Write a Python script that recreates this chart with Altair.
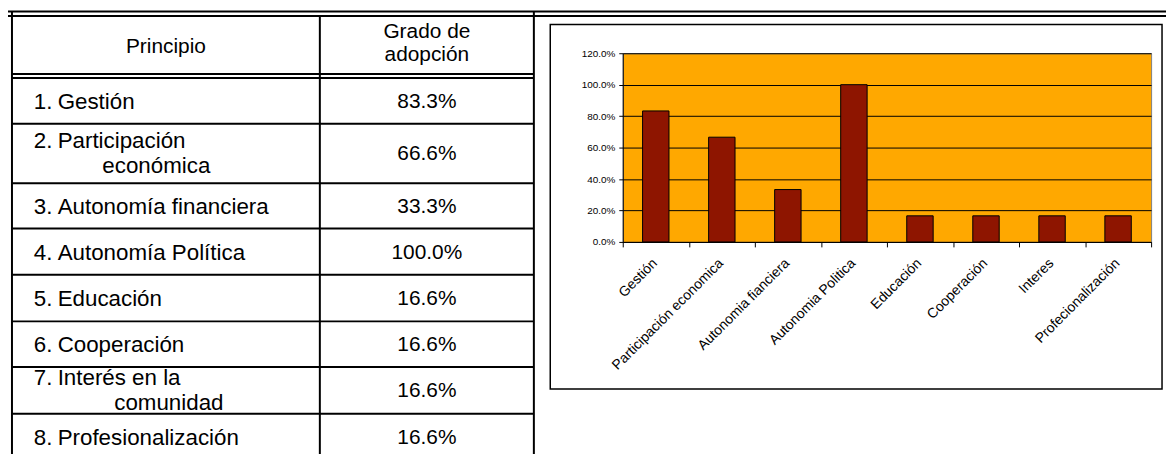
import altair as alt
import pandas as pd

# ---------------- data ----------------
TABLE_NUMS = ["1.", "2.", "3.", "4.", "5.", "6.", "7.", "8."]
TABLE_LINE1 = ["Gestión", "Participación", "Autonomía financiera", "Autonomía Política",
               "Educación", "Cooperación", "Interés en la", "Profesionalización"]
TABLE_LINE2 = ["", "económica", "", "", "", "", "comunidad", ""]
ADOPCION = [0.833, 0.666, 0.333, 1.0, 0.166, 0.166, 0.166, 0.166]
HEADER_COL1 = ["Principio"]
HEADER_COL2 = ["Grado de", "adopción"]
CHART_CATS = ["Gestión", "Participación economica", "Autonomia fianciera", "Autonomia Politica",
              "Educación", "Cooperación", "Interes", "Profecionalización"]
Y_TICKS = [0, 0.2, 0.4, 0.6, 0.8, 1.0, 1.2]

# ---------------- layout (page pixels) ----------------
FONT = "Liberation Sans"
W_TOTAL, H_TOTAL = 1166, 446
PLOT_L, PLOT_T, PLOT_R, PLOT_B = 627, 52, 1159, 242
PW, PH = PLOT_R - PLOT_L, PLOT_B - PLOT_T
PAD = {"left": PLOT_L - 8, "top": PLOT_T - 8,
       "right": W_TOTAL - (PLOT_L - 8) - PW, "bottom": H_TOTAL - (PLOT_T - 8) - PH}

OUTER_TOP = [10, 14.5]
OUTER_LEFT = [7, 12]
TABLE_RIGHT = 537.5
COL_DIV = 322
HEADER_BOT = [73, 77]
ROW_H = [46, 60, 45.5, 46.5, 47, 46, 47, 47]
NUM_X, TXT_X = 34, 58
LINE2_X = {1: 103, 6: 115}
VAL_X = (COL_DIV + TABLE_RIGHT) / 2
COL1_X = (OUTER_LEFT[1] + COL_DIV) / 2
BOX = (554, 23, 1170, 390)
BOTTOM = 470
FS_LEFT = 22.5
FS_HEAD = 21
FS_VAL = 21


def px(x):
    return x - PLOT_L


def py(y):
    return y - PLOT_T


# ---------------- table geometry ----------------
rules = []


def hline(y, x0, x1, w):
    rules.append(dict(x=px(x0), x2=px(x1), y=py(y), y2=py(y), w=w))


def vline(x, y0, y1, w):
    rules.append(dict(x=px(x), x2=px(x), y=py(y0), y2=py(y1), w=w))


for y in OUTER_TOP:
    hline(y, 5, 1180, 2)
for x in OUTER_LEFT:
    vline(x, OUTER_TOP[0], BOTTOM, 2)
for y in HEADER_BOT:
    hline(y, OUTER_LEFT[1], TABLE_RIGHT, 2)
vline(COL_DIV, OUTER_TOP[1], BOTTOM, 2)
vline(TABLE_RIGHT, OUTER_TOP[0], BOTTOM, 2)

edges = [HEADER_BOT[1]]
for h in ROW_H:
    edges.append(edges[-1] + h)
for e in edges[1:]:
    hline(e, OUTER_LEFT[1], TABLE_RIGHT, 2)

rules_df = pd.DataFrame(rules)

left_txt, val_txt, head_txt = [], [], []
hc = (OUTER_TOP[1] + HEADER_BOT[0]) / 2
head_txt.append(dict(x=px(COL1_X), y=py(hc + 2), t=HEADER_COL1[0]))
head_txt.append(dict(x=px(VAL_X), y=py(hc - 13), t=HEADER_COL2[0]))
head_txt.append(dict(x=px(VAL_X), y=py(hc + 10), t=HEADER_COL2[1]))

for i in range(len(TABLE_NUMS)):
    c = (edges[i] + edges[i + 1]) / 2
    if TABLE_LINE2[i]:
        y1, y2 = c - 12.5, c + 12.5
        left_txt.append(dict(x=px(LINE2_X[i]), y=py(y2), t=TABLE_LINE2[i]))
    else:
        y1 = c + 1
    left_txt.append(dict(x=px(NUM_X), y=py(y1), t=TABLE_NUMS[i]))
    left_txt.append(dict(x=px(TXT_X), y=py(y1), t=TABLE_LINE1[i]))
    val_txt.append(dict(x=px(VAL_X), y=py(c + 1), t=f"{ADOPCION[i] * 100:.1f}%"))

left_df = pd.DataFrame(left_txt)
val_df = pd.DataFrame(val_txt)
head_df = pd.DataFrame(head_txt)
box_df = pd.DataFrame([dict(x=px(BOX[0]), y=py(BOX[1]), x2=px(BOX[2]), y2=py(BOX[3]))])

NOX = dict(scale=None, axis=None)

rule_layer = alt.Chart(rules_df).mark_rule(color="black").encode(
    x=alt.X("x:Q", **NOX), x2="x2:Q",
    y=alt.Y("y:Q", **NOX), y2="y2:Q",
    strokeWidth=alt.StrokeWidth("w:Q", scale=None),
)

box_layer = alt.Chart(box_df).mark_rect(fillOpacity=0, stroke="black", strokeWidth=1.5).encode(
    x=alt.X("x:Q", **NOX), x2="x2:Q",
    y=alt.Y("y:Q", **NOX), y2="y2:Q",
)


def text_layer(df, align, size):
    return alt.Chart(df).mark_text(
        align=align, baseline="middle", font=FONT, fontSize=size, color="black"
    ).encode(x=alt.X("x:Q", **NOX), y=alt.Y("y:Q", **NOX), text="t:N")


left_layer = text_layer(left_df, "left", FS_LEFT)
val_layer = text_layer(val_df, "center", FS_VAL)
head_layer = text_layer(head_df, "center", FS_HEAD)

# ---------------- bar chart ----------------
bar_df = pd.DataFrame({"cat": CHART_CATS, "val": ADOPCION})

bars = alt.Chart(bar_df).mark_bar(
    color="#8E1500", stroke="black", strokeWidth=1, width=alt.RelativeBandSize(0.4)
).encode(
    x=alt.X("cat:N", sort=CHART_CATS, title=None,
            scale=alt.Scale(paddingInner=0, paddingOuter=0),
            axis=alt.Axis(labelAngle=-45, labelFont=FONT, labelFontSize=14, labelColor="black",
                          tickBand="extent", tickSize=5, tickColor="black", domainColor="black",
                          labelPadding=9, labelOffset=-6, grid=False)),
    y=alt.Y("val:Q", title=None,
            scale=alt.Scale(domain=[0, 1.2], nice=False),
            axis=alt.Axis(values=Y_TICKS, format=".1%", labelFont=FONT, labelFontSize=10,
                          labelColor="black", tickSize=4, tickColor="black",
                          domainColor="black", grid=True, gridColor="black", gridWidth=1,
                          labelPadding=4)),
)

chart = alt.layer(bars, rule_layer, box_layer, left_layer, val_layer, head_layer).properties(
    width=PW, height=PH, padding=PAD,
    autosize=alt.AutoSizeParams(type="none"),
    background="white",
).configure_view(fill="#FFA800", stroke="#808080", strokeWidth=1)

chart.save("out.html", embed_options={"renderer": "svg", "actions": False})
